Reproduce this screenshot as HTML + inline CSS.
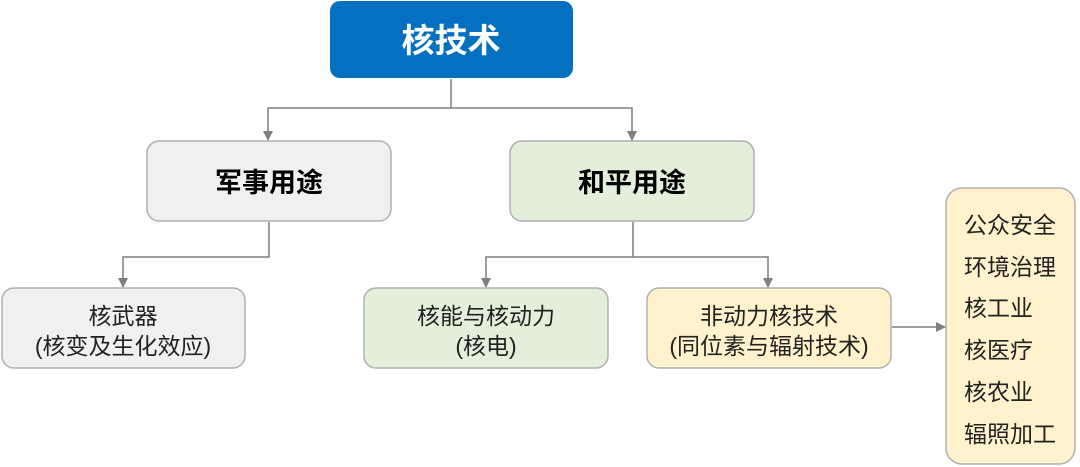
<!DOCTYPE html>
<html><head><meta charset="utf-8"><style>
html,body{margin:0;padding:0;background:#fff;width:1080px;height:467px;overflow:hidden}
svg{display:block}
text{font-family:"Liberation Sans","Noto Sans CJK SC",sans-serif;text-anchor:middle}
</style></head><body>
<svg width="1080" height="467" viewBox="0 0 1080 467">
<defs><marker id="a" markerWidth="10" markerHeight="10" refX="9" refY="5" orient="auto" markerUnits="userSpaceOnUse"><path d="M0,0 L10,5 L0,10 z" fill="#7f7f7f"/></marker></defs>
<g stroke="#7f7f7f" stroke-width="1.5" fill="none">
<path d="M451,79 V108 H268 V140" marker-end="url(#a)"/>
<path d="M451,108 H632 V140" marker-end="url(#a)"/>
<path d="M269,222 V257 H123 V287" marker-end="url(#a)"/>
<path d="M633,222 V257 H486 V287" marker-end="url(#a)"/>
<path d="M633,257 H768 V287" marker-end="url(#a)"/>
<path d="M892,327 H945" marker-end="url(#a)"/>
</g>
<rect x="330" y="1" width="243" height="77" rx="10" fill="#0570c0"/>
<text x="451" y="52" font-size="33" font-weight="bold" fill="#fff">核技术</text>
<rect x="147" y="141" width="244" height="80" rx="12" fill="#f0f0f0" stroke="#b0b0b0" stroke-width="1.5"/>
<text x="269" y="192" font-size="27" font-weight="bold" fill="#000">军事用途</text>
<rect x="510" y="141" width="244" height="80" rx="12" fill="#e2efda" stroke="#b0b0b0" stroke-width="1.5"/>
<text x="632" y="192" font-size="27" font-weight="bold" fill="#000">和平用途</text>
<rect x="2" y="288" width="243" height="80" rx="12" fill="#f0f0f0" stroke="#b0b0b0" stroke-width="1.5"/>
<text x="123" y="324" font-size="23" fill="#222">核武器</text>
<text x="123" y="354" font-size="23" fill="#222">(核变及生化效应)</text>
<rect x="364" y="288" width="244" height="80" rx="12" fill="#e2efda" stroke="#b0b0b0" stroke-width="1.5"/>
<text x="486" y="324" font-size="23" fill="#222">核能与核动力</text>
<text x="486" y="354" font-size="23" fill="#222">(核电)</text>
<rect x="647" y="288" width="244" height="80" rx="12" fill="#fff2cc" stroke="#b0b0b0" stroke-width="1.5"/>
<text x="769" y="324" font-size="23" fill="#222">非动力核技术</text>
<text x="769" y="354" font-size="23" fill="#222">(同位素与辐射技术)</text>
<rect x="946" y="188" width="129" height="276" rx="16" fill="#fff2cc" stroke="#b0b0b0" stroke-width="1.5"/>
<g font-size="23" fill="#222">
<text x="964" y="233" style="text-anchor:start">公众安全</text>
<text x="964" y="275" style="text-anchor:start">环境治理</text>
<text x="964" y="316" style="text-anchor:start">核工业</text>
<text x="964" y="358" style="text-anchor:start">核医疗</text>
<text x="964" y="400" style="text-anchor:start">核农业</text>
<text x="964" y="442" style="text-anchor:start">辐照加工</text>
</g>
</svg>
</body></html>
